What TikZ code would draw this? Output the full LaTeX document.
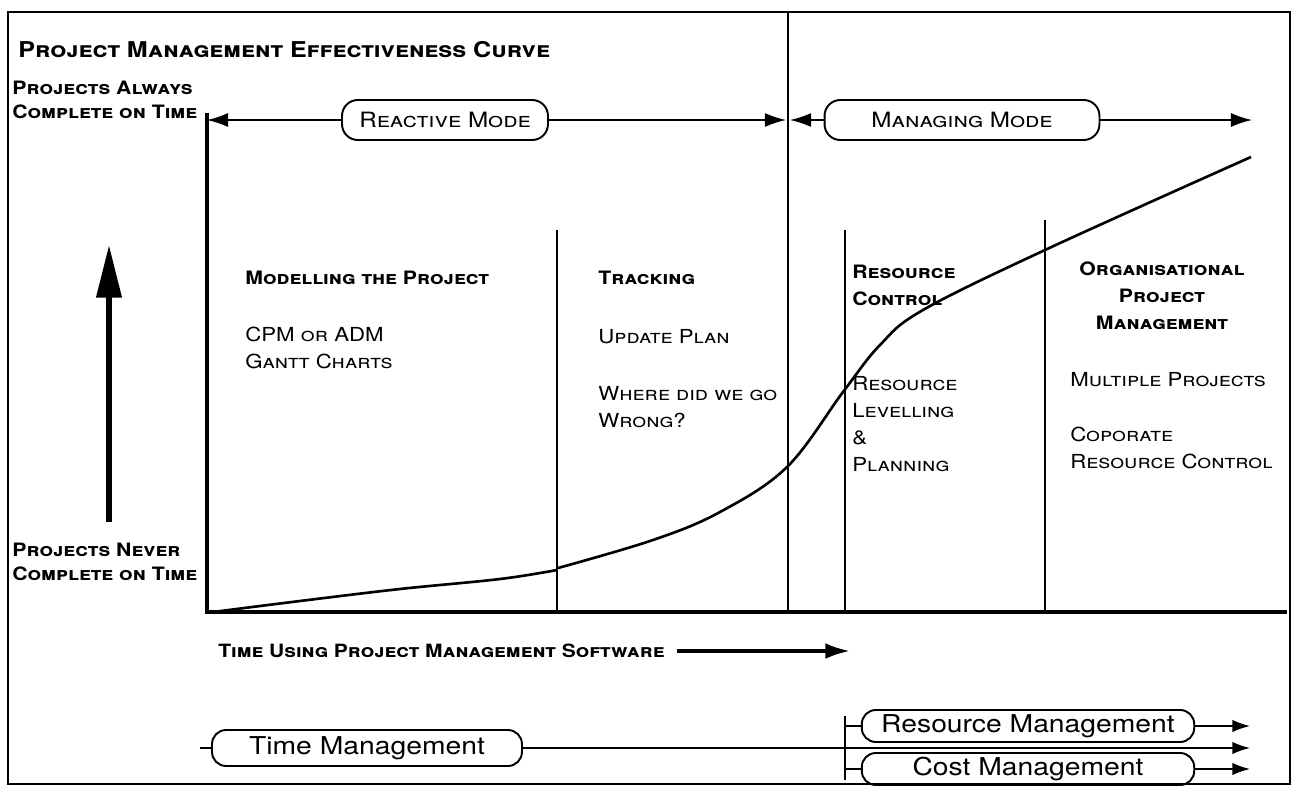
\documentclass[tikz,border=0pt]{standalone}
\usepackage{fontspec}
\setmainfont{TeX Gyre Heros}[FakeStretch=1.15]
\usetikzlibrary{arrows.meta,positioning}

\tikzset{
  heading/.style={font=\fontsize{10.5}{15.5}\selectfont\bfseries\scshape, anchor=west, inner sep=0pt, align=left},
  item/.style={font=\fontsize{11}{15.5}\selectfont\scshape, anchor=west, inner sep=0pt, align=left},
  sidelabel/.style={font=\fontsize{10.5}{14}\selectfont\bfseries\scshape, anchor=west, inner sep=0pt, align=left},
  modebox/.style={draw, line width=1.1pt, rounded corners=9pt, minimum height=0.8cm, font=\fontsize{12}{14}\selectfont\scshape},
  mgmtbox/.style={draw, line width=1.1pt, rounded corners=8pt, minimum height=0.64cm, inner sep=1pt, font=\fontsize{14}{16}\selectfont},
  divider/.style={line width=0.8pt},
  axis/.style={line width=2.2pt},
  modearrow/.style={line width=0.9pt, -{Latex[length=12pt,width=8pt]}},
}

\begin{document}
\begin{tikzpicture}[x=0.02cm, y=-0.02cm]
\useasboundingbox (0,0) rectangle (1299,788);
\draw[line width=1pt] (8,12) rectangle (1290,784);

% title and axis labels
\node[heading, font=\fontsize{12.4}{15}\selectfont\bfseries\scshape] (title) at (18,50) {Project Management Effectiveness Curve};
\node[sidelabel] (always) at (12,100) {Projects Always\\Complete on Time};
\node[sidelabel] (never) at (12,562) {Projects Never\\Complete on Time};
\coordinate (bigbot) at (109,522);
\coordinate (bigtop) at (109,245);
\draw[line width=3pt, -{Triangle[length=30pt,width=14pt]}] (bigbot) -- (bigtop);

% axes and phase lines
\draw[axis] (207,113) -- (207,613);
\draw[axis] (205,612) -- (1287,612);
\draw[divider] (788,12) -- (788,612);
\draw[divider] (557,230) -- (557,612);
\draw[divider] (845,230) -- (845,612);
\draw[divider] (1045,220) -- (1045,612);

% modes
\node[modebox, minimum width=4.12cm] (reactive) at (445,120) {Reactive Mode};
\node[modebox, minimum width=5.5cm] (managing) at (962,120) {Managing Mode};
\coordinate (ytop) at (207,120);
\coordinate (midl) at (786,120);
\coordinate (midr) at (790,120);
\coordinate (mend) at (1252,120);
\draw[modearrow] (reactive.west) -- (ytop);
\draw[modearrow] (reactive.east) -- (midl);
\draw[modearrow] (managing.west) -- (midr);
\draw[modearrow] (managing.east) -- (mend);

% effectiveness curve
\draw[line width=1.5pt] plot[smooth, tension=0.6] coordinates {(213,612) (300,601) (400,589) (500,579) (557,570)};
\draw[line width=1.5pt] plot[smooth, tension=0.6] coordinates {(558,568) (653,540) (720,512) (787,467) (843,392) (880,345) (923,310) (1045,250) (1251,157)};

% phase texts
\node[heading] (modelhd) at (245,278) {Modelling the Project};
\node[item] (cpm) at (245,348) {CPM or ADM\\Gantt Charts};
\node[heading] (trackhd) at (598,278) {Tracking};
\node[item] (update) at (598,337) {Update Plan};
\node[item] (where) at (598,407) {Where did we go\\Wrong?};
\node[heading] (rchd) at (852,285) {Resource\\Control};
\node[item] (level) at (852,424) {Resource\\Levelling\\\&\\Planning};
\node[heading, anchor=center, align=center] (orghd) at (1162,296) {Organisational\\Project\\Management};
\node[item] (multi) at (1070,380) {Multiple Projects};
\node[item] (corp) at (1070,448) {Coporate\\Resource Control};

% time axis label
\node[heading, font=\fontsize{10.4}{14}\selectfont\bfseries\scshape] (timeuse) at (218,651) {Time Using Project Management Software};
\coordinate (tuend) at (850,651);
\draw[line width=2pt, -{Latex[length=14pt,width=9pt]}] (timeuse.east) ++(12,0) -- (tuend);

% management strands
\node[mgmtbox, minimum width=6.2cm, minimum height=0.72cm] (timemgmt) at (367,748) {Time Management};
\node[mgmtbox, minimum width=6.65cm] (resmgmt) at (1028,726) {Resource Management};
\node[mgmtbox, minimum width=6.65cm] (costmgmt) at (1028,769) {Cost Management};
\coordinate (ttick) at (200,748);
\coordinate (tend) at (1250,748);
\coordinate (rend) at (1250,726);
\coordinate (cend) at (1250,769);
\coordinate (brtop) at (845,716);
\coordinate (brbot) at (845,780);
\draw[line width=0.8pt] (timemgmt.west) -- (ttick);
\draw[line width=0.8pt, -{Latex[length=10pt,width=7pt]}] (timemgmt.east) -- (tend);
\draw[line width=0.8pt] (brtop) -- (brbot);
\draw[line width=0.8pt] (resmgmt.west) -- (resmgmt.west -| brtop);
\draw[line width=0.8pt] (costmgmt.west) -- (costmgmt.west -| brtop);
\draw[line width=0.8pt, -{Latex[length=10pt,width=7pt]}] (resmgmt.east) -- (rend);
\draw[line width=0.8pt, -{Latex[length=10pt,width=7pt]}] (costmgmt.east) -- (cend);
\end{tikzpicture}
\end{document}
